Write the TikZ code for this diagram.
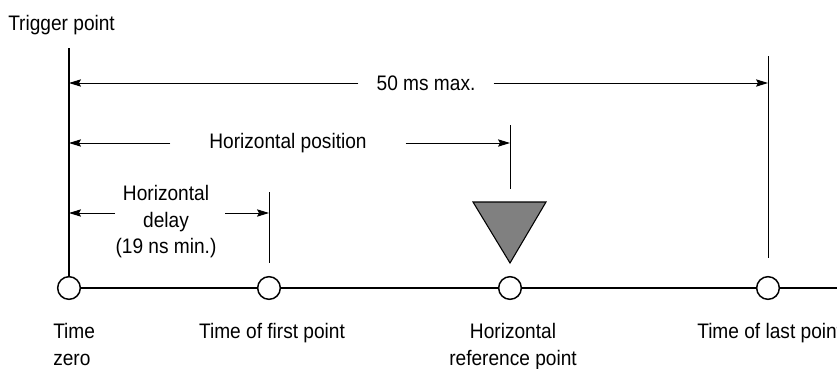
\documentclass[tikz,border=0pt]{standalone}
\usepackage{fontspec}
\setmainfont{Liberation Sans}[FakeStretch=0.91]
\usepackage{tikz}
\usetikzlibrary{arrows.meta,positioning,calc}
\definecolor{markgris}{gray}{0.5}
\tikzset{
  tpoint/.style={circle, draw, line width=1.1pt, fill=white, minimum size=17pt, inner sep=0pt},
  axe/.style={line width=1.1pt},
  repere/.style={line width=0.7pt},
  arr/.style={-{Stealth[length=9pt, width=5.5pt, inset=1.5pt]}, line width=0.7pt},
  lbl/.style={font=\fontsize{15.75}{20}\selectfont, inner sep=0pt},
}

\begin{document}
\begin{tikzpicture}[x=0.75pt, y=-0.75pt]
  \useasboundingbox (0,0) rectangle (837,368);
  % time axis
  \node[tpoint] (t0) at (69,288) {};
  \node[tpoint] (t1) at (269,288) {};
  \node[tpoint] (t2) at (510,288) {};
  \node[tpoint] (t3) at (768,288) {};
  \coordinate (fin) at (837,288);
  \draw[axe] (t0) -- (t1) -- (t2) -- (t3) -- (fin);

  % reference lines
  \coordinate (v0) at (69,48);
  \coordinate (v1) at (269,192);
  \coordinate (v1b) at (269,263);
  \coordinate (v2) at (510,125);
  \coordinate (v2b) at (510,189);
  \coordinate (v3) at (768,56);
  \coordinate (v3b) at (768,258);
  \draw[axe] (v0) -- (t0);
  \draw[repere] (v1) -- (v1b);
  \draw[repere] (v2) -- (v2b);
  \draw[repere] (v3) -- (v3b);

  % reference point marker
  \draw[line width=0.8pt, fill=markgris] (473,202) -- (546,202) -- (510,263) -- cycle;

  \node[lbl, anchor=north west] (trig) at (8,15) {Trigger point};

  % dimension arrows
  \node[lbl, inner xsep=13.5pt, inner ysep=4pt] (max) at (426,83) {50 ms max.};
  \draw[arr] (max.west) -- (max.west -| v0);
  \draw[arr] (max.east) -- (max.east -| v3);

  \node[lbl, inner xsep=29pt, inner ysep=4pt] (hpos) at (288,143) {Horizontal position};
  \draw[arr] (hpos.west) -- (hpos.west -| v0);
  \draw[arr] (hpos.east) -- (hpos.east -| v2);

  \node[lbl, anchor=north, align=center] (hdel) at (166,185) {Horizontal\\delay\\(19 ns min.)};
  \coordinate (hdl) at (115,213);
  \coordinate (hdr) at (225,213);
  \draw[arr] (hdl) -- (hdl -| v0);
  \draw[arr] (hdr) -- (hdr -| v1);

  % axis labels
  \node[lbl, anchor=north west, align=left] (zero) at (53,323) {Time\\zero};
  \node[lbl, anchor=north] (first) at (272,323) {Time of first point};
  \node[lbl, anchor=north, align=center] (href) at (513,323) {Horizontal\\reference point};
  \node[lbl, anchor=north west] (last) at (697,323) {Time of last point};
\end{tikzpicture}
\end{document}
